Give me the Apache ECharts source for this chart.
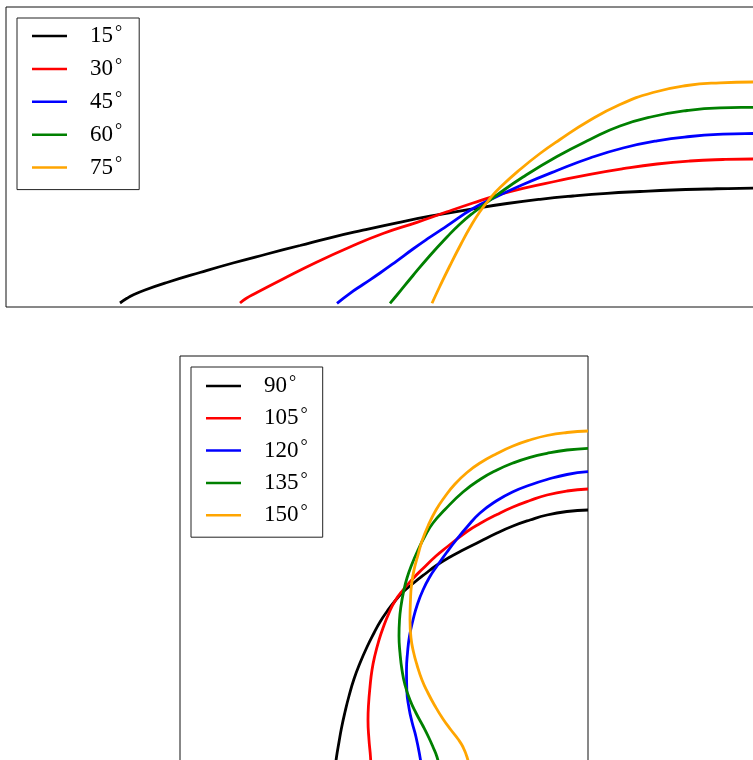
<!DOCTYPE html>
<html><head><meta charset="utf-8">
<script src="https://cdn.jsdelivr.net/npm/echarts@6/dist/echarts.min.js"></script>
<style>html,body{margin:0;padding:0;background:#fff}#c{width:753px;height:760px}</style>
</head><body><div id="c"></div>
<script>
// Top panel (angles 15..75 degrees)
const topNames = ['15°', '30°', '45°', '60°', '75°'];
const a15 = [[1.14,0.04],[1.21,0.087],[1.27,0.12],[1.39,0.17],[1.61,0.245],[1.94,0.345],[2.27,0.44],[2.61,0.53],[2.94,0.615],[3.24,0.692],[3.57,0.768],[3.91,0.842],[4.24,0.908],[4.67,0.982],[5.01,1.035],[5.34,1.077],[5.67,1.11],[6.01,1.137],[6.34,1.155],[6.67,1.17],[7.01,1.18],[7.34,1.187],[7.84,1.19]];
const a30 = [[2.34,0.04],[2.40,0.085],[2.49,0.135],[2.77,0.28],[3.11,0.45],[3.44,0.60],[3.77,0.735],[4.11,0.847],[4.41,0.952],[4.67,1.04],[4.91,1.117],[5.17,1.187],[5.51,1.26],[5.84,1.327],[6.17,1.383],[6.51,1.43],[6.84,1.46],[7.17,1.475],[7.47,1.48],[7.84,1.48]];
const a45 = [[3.31,0.037],[3.44,0.137],[3.57,0.225],[3.74,0.34],[3.91,0.462],[4.07,0.58],[4.24,0.698],[4.41,0.812],[4.67,0.985],[4.91,1.105],[5.17,1.225],[5.51,1.365],[5.84,1.49],[6.17,1.59],[6.51,1.662],[6.84,1.705],[7.17,1.728],[7.47,1.735],[7.84,1.737]];
const a60 = [[3.84,0.037],[3.91,0.12],[4.07,0.315],[4.24,0.515],[4.41,0.70],[4.54,0.83],[4.67,0.94],[4.91,1.12],[5.17,1.30],[5.51,1.505],[5.84,1.675],[6.14,1.81],[6.47,1.905],[6.81,1.965],[7.14,1.992],[7.47,1.997],[7.84,2.00]];
const a75 = [[4.26,0.037],[4.34,0.21],[4.44,0.415],[4.55,0.63],[4.64,0.795],[4.74,0.955],[4.84,1.085],[4.94,1.195],[5.14,1.375],[5.34,1.535],[5.54,1.675],[5.81,1.85],[6.14,2.025],[6.47,2.145],[6.81,2.215],[7.14,2.242],[7.47,2.25],[7.84,2.25]];

// Bottom panel (angles 90..150 degrees)
const bottomNames = ['90°', '105°', '120°', '135°', '150°'];
const a90 = [[4.08,2.66],[3.87,2.645],[3.67,2.61],[3.50,2.56],[3.33,2.50],[3.17,2.43],[3.00,2.345],[2.83,2.26],[2.70,2.19],[2.57,2.11],[2.45,2.02],[2.33,1.925],[2.23,1.84],[2.15,1.75],[2.07,1.645],[2.00,1.54],[1.94,1.43],[1.87,1.29],[1.80,1.13],[1.74,0.97],[1.69,0.80],[1.65,0.64],[1.615,0.48],[1.59,0.34],[1.565,0.19],[1.55,0.06]];
const a105 = [[4.08,2.87],[3.87,2.85],[3.67,2.81],[3.50,2.755],[3.33,2.69],[3.17,2.615],[3.00,2.525],[2.87,2.445],[2.67,2.29],[2.56,2.20],[2.43,2.075],[2.33,1.975],[2.23,1.86],[2.15,1.75],[2.09,1.63],[2.03,1.48],[1.99,1.36],[1.95,1.21],[1.92,1.06],[1.90,0.89],[1.885,0.71],[1.88,0.56],[1.89,0.36],[1.905,0.19],[1.91,0.06]];
const a120 = [[4.08,3.043],[3.87,3.015],[3.67,2.965],[3.50,2.91],[3.33,2.843],[3.17,2.755],[3.00,2.63],[2.87,2.49],[2.77,2.37],[2.67,2.24],[2.57,2.10],[2.50,1.995],[2.43,1.86],[2.375,1.72],[2.33,1.56],[2.295,1.40],[2.275,1.23],[2.265,1.06],[2.268,0.86],[2.29,0.68],[2.32,0.54],[2.36,0.39],[2.40,0.19],[2.42,0.06]];
const a135 = [[4.08,3.277],[3.87,3.26],[3.67,3.227],[3.50,3.187],[3.33,3.13],[3.17,3.06],[3.00,2.965],[2.83,2.84],[2.65,2.665],[2.53,2.53],[2.45,2.40],[2.38,2.26],[2.32,2.12],[2.27,1.98],[2.235,1.84],[2.21,1.70],[2.195,1.56],[2.19,1.40],[2.20,1.23],[2.22,1.06],[2.25,0.91],[2.30,0.76],[2.36,0.63],[2.43,0.50],[2.49,0.38],[2.53,0.29],[2.57,0.19],[2.60,0.06]];
const a150 = [[4.08,3.45],[3.87,3.435],[3.67,3.405],[3.50,3.36],[3.33,3.30],[3.17,3.225],[3.00,3.13],[2.87,3.035],[2.75,2.92],[2.65,2.795],[2.56,2.66],[2.48,2.50],[2.42,2.35],[2.38,2.21],[2.34,2.06],[2.315,1.91],[2.305,1.76],[2.30,1.56],[2.31,1.38],[2.335,1.24],[2.37,1.11],[2.42,0.96],[2.48,0.83],[2.55,0.70],[2.63,0.57],[2.71,0.46],[2.78,0.37],[2.83,0.29],[2.87,0.19],[2.90,0.06]];

const colors = ['#000000', '#ff0000', '#0000ff', '#008000', '#ffa500'];
const topData = [a15, a30, a45, a60, a75];
const bottomData = [a90, a105, a120, a135, a150];

const chart = echarts.init(document.getElementById('c'), null, {renderer: 'canvas'});

function mkSeries(names, datas, idx) {
  return names.map((n, i) => ({
    name: n, type: 'line', xAxisIndex: idx, yAxisIndex: idx,
    data: datas[i], smooth: 0.5, symbol: 'none', showSymbol: false,
    lineStyle: {color: colors[i], width: 2.8}, itemStyle: {color: colors[i]},
    z: 2 + i
  }));
}

const rich = {
  n: {fontFamily: 'Liberation Serif', fontSize: 23, lineHeight: 24, color: '#000', padding: [0, 0, 0, 18]},
  d: {fontFamily: 'Liberation Serif', fontSize: 18, lineHeight: 17, color: '#000', verticalAlign: 'top', padding: [0, 0, 0, 2]}
};
function legendFmt(name) { return '{n|' + name.replace('°', '') + '}{d|°}'; }

function mkLegend(names, left, top, gap, padTop, padRight) {
  return {
    data: names, orient: 'vertical', left: left, top: top,
    icon: 'rect', itemWidth: 35, itemHeight: 2.5, itemGap: gap,
    padding: [padTop, padRight, 10.5, 15],
    borderColor: '#222', borderWidth: 1, borderRadius: 0,
    backgroundColor: '#fff',
    formatter: legendFmt,
    textStyle: {rich: rich},
    selectedMode: false
  };
}

chart.setOption({
  animation: false,
  backgroundColor: '#fff',
  grid: [
    {left: 6, top: 7, width: 800, height: 300, outerBoundsMode: 'none', containLabel: false, show: true, borderColor: '#111', borderWidth: 1, backgroundColor: 'transparent'},
    {left: 180, top: 356, width: 408, height: 420, outerBoundsMode: 'none', containLabel: false, show: true, borderColor: '#111', borderWidth: 1, backgroundColor: 'transparent'}
  ],
  xAxis: [
    {gridIndex: 0, type: 'value', min: 0, max: 8, show: false},
    {gridIndex: 1, type: 'value', min: 0, max: 4.08, show: false}
  ],
  yAxis: [
    {gridIndex: 0, type: 'value', min: 0, max: 3, show: false},
    {gridIndex: 1, type: 'value', min: 0, max: 4.2, show: false}
  ],
  legend: [mkLegend(topNames, 17, 18, 9.4, 6, 17), mkLegend(bottomNames, 191, 367, 8.8, 7, 15)],
  series: mkSeries(topNames, topData, 0).concat(mkSeries(bottomNames, bottomData, 1))
});
</script></body></html>
